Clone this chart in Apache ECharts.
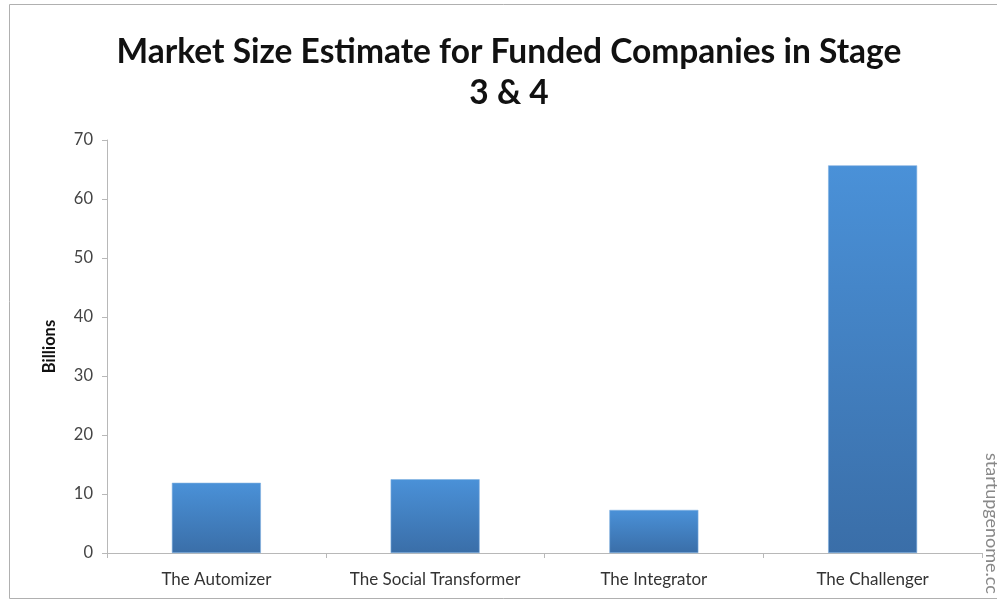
<!DOCTYPE html>
<html>
<head>
<meta charset="utf-8">
<script src="https://cdn.jsdelivr.net/npm/echarts@6/dist/echarts.min.js"></script>
<style>html,body{margin:0;padding:0;background:#fff;}#c{width:997px;height:602px;}</style>
</head>
<body>
<div id="c"></div>
<script>
var categories = ['The Automizer', 'The Social Transformer', 'The Integrator', 'The Challenger'];
var values = [11.9, 12.5, 7.3, 65.7];
var titleText = 'Market Size Estimate for Funded Companies in Stage\n3 & 4';
var yAxisName = 'Billions';
var watermark = 'startupgenome.cc';

var chart = echarts.init(document.getElementById('c'));
chart.setOption({
  animation: false,
  backgroundColor: '#ffffff',
  title: {
    text: titleText,
    left: 504,
    top: 27,
    textAlign: 'center',
    textStyle: { fontFamily: 'Lato', fontWeight: 'bold', fontSize: 33.5, lineHeight: 41, color: '#111' }
  },
  grid: { left: 107, right: 15, top: 140, bottom: 49 },
  xAxis: {
    type: 'category',
    data: categories,
    axisLine: { lineStyle: { color: '#b8b8b8', width: 1 } },
    axisTick: { show: true, alignWithLabel: false, length: 5, lineStyle: { color: '#b8b8b8' } },
    axisLabel: { interval: 0, fontFamily: 'Lato', fontSize: 17, color: '#333', margin: 18 }
  },
  yAxis: {
    type: 'value',
    min: 0, max: 70, interval: 10,
    name: yAxisName,
    nameLocation: 'middle',
    nameGap: 49,
    nameTextStyle: { fontFamily: 'Lato', fontWeight: 'bold', fontSize: 16.5, color: '#111' },
    axisLine: { show: true, lineStyle: { color: '#b8b8b8', width: 1 } },
    axisTick: { show: true, length: 5, lineStyle: { color: '#b8b8b8' } },
    axisLabel: { fontFamily: 'Lato', fontSize: 16.5, color: '#444', margin: 14 },
    splitLine: { show: false }
  },
  series: [{
    type: 'bar',
    data: values,
    barWidth: 89,
    itemStyle: {
      color: new echarts.graphic.LinearGradient(0, 0, 0, 1, [
        { offset: 0, color: '#4a91d8' },
        { offset: 1, color: '#3a6ea8' }
      ]),
      borderColor: '#7fb0e0',
      borderWidth: 0.6
    }
  }],
  graphic: [
    {
      type: 'rect',
      shape: { x: 9.5, y: 4.5, width: 1000, height: 594 },
      style: { fill: 'none', stroke: '#b0b0b0', lineWidth: 1 },
      silent: true
    },
    {
      type: 'text',
      x: 983,
      y: 453,
      rotation: -Math.PI / 2,
      style: { text: watermark, fontFamily: 'Lato', fontSize: 18, fill: '#888', textAlign: 'left', textVerticalAlign: 'bottom' },
      silent: true
    }
  ]
});
</script>
</body>
</html>
